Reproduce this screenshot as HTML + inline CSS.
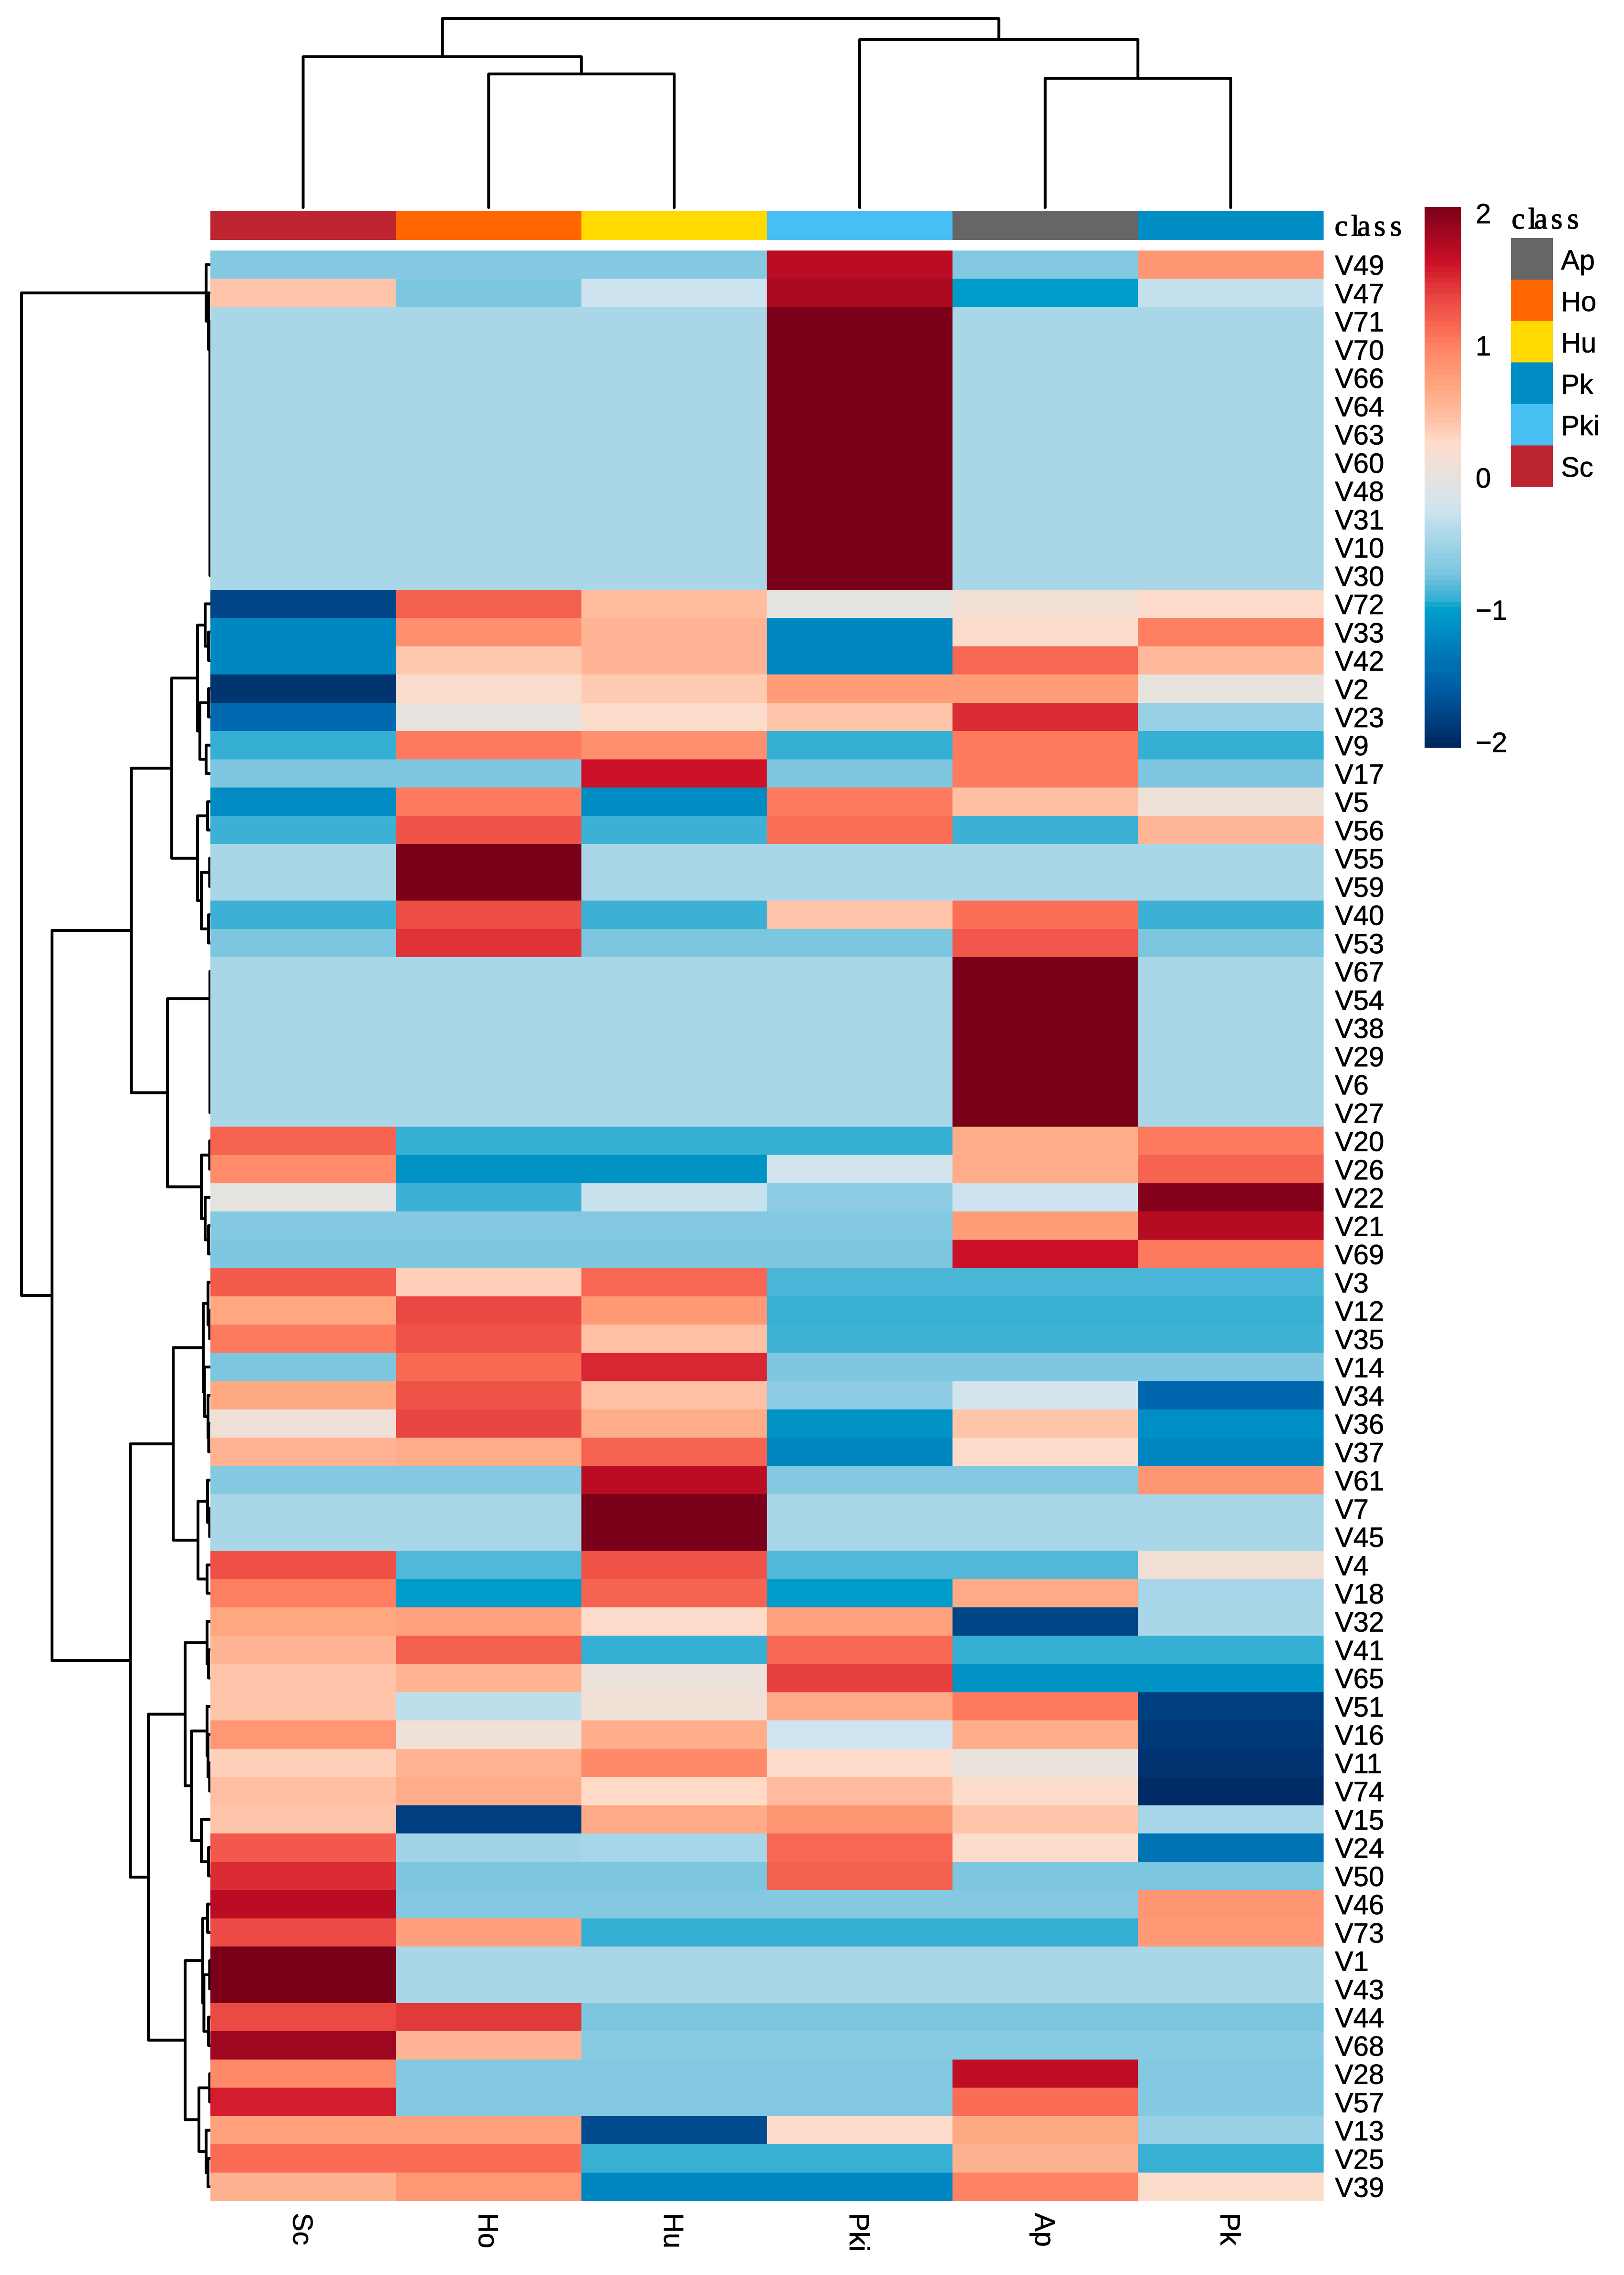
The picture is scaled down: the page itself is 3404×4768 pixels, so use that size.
<!DOCTYPE html>
<html lang="en">
<head>
<meta charset="utf-8">
<title>Clustered heatmap of variables by class</title>
<style>
  html, body { margin: 0; padding: 0; background: #ffffff; }
  body { width: 3404px; height: 4768px; overflow: hidden; }
  svg { display: block; }
  text { font-family: "Liberation Sans", sans-serif; font-size: 58px; fill: #000000; stroke: #000000; stroke-width: 0.8px; }
  .serif { font-family: "Liberation Serif", serif; font-size: 62px; stroke-width: 1.4px; }
</style>
</head>
<body>
<svg id="chart" xmlns="http://www.w3.org/2000/svg" width="3404" height="4768" viewBox="0 0 3404 4768">
  <rect x="0" y="0" width="3404" height="4768" fill="#ffffff"/>
  <g id="row-dendrogram" fill="none" stroke="#000000" stroke-width="6" stroke-linecap="round" stroke-linejoin="round"></g>
  <g id="col-dendrogram" fill="none" stroke="#000000" stroke-width="6" stroke-linecap="round" stroke-linejoin="round"></g>
  <g id="annotation-bar"></g>
  <g id="heatmap" shape-rendering="crispEdges"></g>
  <g id="row-labels"></g>
  <g id="col-labels"></g>
  <g id="colorbar" shape-rendering="crispEdges"></g>
  <g id="colorbar-ticks"></g>
  <g id="class-legend"></g>
  <text class="serif" x="2797.5 2832 2845 2880 2914" y="494">class</text>
  <text class="serif" x="3168.5 3203 3216 3251 3285" y="479">class</text>
</svg>
<script>
const colLabels = ['Sc', 'Ho', 'Hu', 'Pki', 'Ap', 'Pk'];
const rowLabels = ['V49','V47','V71','V70','V66','V64','V63','V60','V48','V31','V10','V30','V72','V33','V42','V2','V23','V9','V17','V5','V56','V55','V59','V40','V53','V67','V54','V38','V29','V6','V27','V20','V26','V22','V21','V69','V3','V12','V35','V14','V34','V36','V37','V61','V7','V45','V4','V18','V32','V41','V65','V51','V16','V11','V74','V15','V24','V50','V46','V73','V1','V43','V44','V68','V28','V57','V13','V25','V39'];
const heatValues = [
  [-0.67,-0.67,-0.67,1.72,-0.67,0.83],
  [0.43,-0.72,-0.25,1.8,-1.02,-0.3],
  [-0.45,-0.45,-0.45,2.05,-0.45,-0.45],
  [-0.45,-0.45,-0.45,2.05,-0.45,-0.45],
  [-0.45,-0.45,-0.45,2.05,-0.45,-0.45],
  [-0.45,-0.45,-0.45,2.05,-0.45,-0.45],
  [-0.45,-0.45,-0.45,2.05,-0.45,-0.45],
  [-0.45,-0.45,-0.45,2.05,-0.45,-0.45],
  [-0.45,-0.45,-0.45,2.05,-0.45,-0.45],
  [-0.45,-0.45,-0.45,2.05,-0.45,-0.45],
  [-0.45,-0.45,-0.45,2.05,-0.45,-0.45],
  [-0.45,-0.45,-0.45,2.05,-0.45,-0.45],
  [-1.78,1.2,0.48,0,0.12,0.25],
  [-1.2,0.88,0.55,-1.2,0.25,1.0],
  [-1.2,0.4,0.55,-1.2,1.15,0.52],
  [-1.92,0.22,0.38,0.77,0.77,0.02],
  [-1.48,0.02,0.24,0.42,1.5,-0.55],
  [-0.92,1.03,0.88,-0.92,1.03,-0.92],
  [-0.7,-0.7,1.63,-0.7,1.03,-0.7],
  [-1.17,1.03,-1.17,1.03,0.46,0.08],
  [-0.9,1.27,-0.9,1.1,-0.9,0.54],
  [-0.45,2.05,-0.45,-0.45,-0.45,-0.45],
  [-0.45,2.05,-0.45,-0.45,-0.45,-0.45],
  [-0.9,1.32,-0.9,0.43,1.1,-0.9],
  [-0.72,1.46,-0.72,-0.72,1.25,-0.72],
  [-0.45,-0.45,-0.45,-0.45,2.05,-0.45],
  [-0.45,-0.45,-0.45,-0.45,2.05,-0.45],
  [-0.45,-0.45,-0.45,-0.45,2.05,-0.45],
  [-0.45,-0.45,-0.45,-0.45,2.05,-0.45],
  [-0.45,-0.45,-0.45,-0.45,2.05,-0.45],
  [-0.45,-0.45,-0.45,-0.45,2.05,-0.45],
  [1.18,-0.92,-0.92,-0.92,0.63,1.03],
  [0.92,-1.12,-1.12,-0.2,0.63,1.17],
  [0,-0.9,-0.28,-0.62,-0.25,2.0],
  [-0.68,-0.68,-0.68,-0.68,0.77,1.75],
  [-0.7,-0.7,-0.7,-0.7,1.63,1.03],
  [1.22,0.35,1.15,-0.86,-0.86,-0.86],
  [0.68,1.35,0.8,-0.91,-0.91,-0.91],
  [1.03,1.28,0.45,-0.89,-0.89,-0.89],
  [-0.72,1.14,1.52,-0.7,-0.7,-0.7],
  [0.66,1.28,0.45,-0.62,-0.2,-1.5],
  [0.1,1.37,0.63,-1.12,0.42,-1.13],
  [0.57,0.63,1.17,-1.2,0.25,-1.2],
  [-0.67,-0.67,1.72,-0.67,-0.67,0.83],
  [-0.45,-0.45,2.05,-0.45,-0.45,-0.45],
  [-0.45,-0.45,2.05,-0.45,-0.45,-0.45],
  [1.3,-0.84,1.28,-0.84,-0.84,0.12],
  [1.0,-1.02,1.17,-1.02,0.65,-0.47],
  [0.68,0.73,0.25,0.73,-1.78,-0.45],
  [0.56,1.2,-0.92,1.15,-0.92,-0.92],
  [0.43,0.57,0.05,1.4,-1.12,-1.12],
  [0.42,-0.33,0.11,0.65,1.03,-1.83],
  [0.82,0.08,0.62,-0.24,0.62,-1.88],
  [0.34,0.57,0.93,0.25,0.04,-1.93],
  [0.46,0.63,0.28,0.49,0.24,-2.0],
  [0.42,-1.83,0.65,0.83,0.42,-0.46],
  [1.24,-0.5,-0.47,1.15,0.24,-1.38],
  [1.5,-0.72,-0.72,1.2,-0.72,-0.72],
  [1.72,-0.67,-0.67,-0.67,-0.67,0.83],
  [1.33,0.75,-0.92,-0.92,-0.92,0.8],
  [2.05,-0.45,-0.45,-0.45,-0.45,-0.45],
  [2.05,-0.45,-0.45,-0.45,-0.45,-0.45],
  [1.34,1.43,-0.72,-0.72,-0.72,-0.72],
  [1.87,0.55,-0.64,-0.64,-0.64,-0.64],
  [0.93,-0.68,-0.68,-0.68,1.7,-0.68],
  [1.57,-0.68,-0.68,-0.68,1.12,-0.68],
  [0.73,0.73,-1.73,0.24,0.66,-0.55],
  [1.12,1.12,-0.91,-0.91,0.58,-0.91],
  [0.58,0.82,-1.2,-1.2,0.98,0.24]
];
/* column merges: [node, left child, right child, merge height] */
const colMerges = [
  ['c1','Ho','Hu',70],
  ['c2','Sc','c1',79],
  ['c3','Ap','Pk',67.75],
  ['c4','Pki','c3',88],
  ['c5','c2','c4',99]
];
/* row merges: [node, left child, right child, merge height] */
const rowMerges = [
  ['a1','V10','V30',0.25],['a2','V31','a1',0.25],['a3','V48','a2',0.25],['a4','V60','a3',0.25],['a5','V63','a4',0.25],
  ['a6','V64','a5',0.25],['a7','V66','a6',0.25],['a8','V70','a7',0.25],['a9','V71','a8',0.25],
  ['a10','V47','a9',1],['a11','V49','a10',2.25],
  ['b1','V33','V42',1],['b2','V72','b1',2.75],['b3','V2','V23',1],['b4','V9','V17',2.25],['b5','b3','b4',5.5],['b6','b2','b5',6.75],
  ['b7','V5','V56',1.5],['b8','V55','V59',0.4],['b9','V40','V53',1],['b10','b8','b9',4.75],['b11','b7','b10',6.75],['b12','b6','b11',20.25],
  ['d1','V6','V27',0.25],['d2','V29','d1',0.25],['d3','V38','d2',0.25],['d4','V54','d3',0.25],['d5','V67','d4',0.25],
  ['d6','V20','V26',0.4],['d7','V21','V69',1],['d8','V22','d7',2.75],['d9','d6','d8',4.75],['d10','d5','d9',22.5],
  ['d11','b12','d10',41.4],
  ['e1','V12','V35',0.4],['e2','V3','e1',1.25],['e3','V36','V37',0.9],['e4','V34','e3',1.25],['e5','V14','e4',3.1],['e6','e2','e5',3.75],
  ['e7','V7','V45',0.4],['e8','V61','e7',1.5],['e9','V4','V18',1.75],['e10','e8','e9',6.5],['e11','e6','e10',19.5],
  ['f1','V41','V65',1],['f2','V32','f1',1.75],['f3','V11','V74',0.4],['f4','V16','f3',1.25],['f5','V51','f4',1.75],
  ['f6','V24','V50',1],['f7','V15','f6',4.75],['f8','f5','f7',9.9],['f9','f2','f8',13.25],
  ['g1','V46','V73',1.5],['g2','V1','V43',0.4],['g3','V44','V68',1],['g4','g2','g3',3.4],['g5','g1','g4',4],
  ['g6','V28','V57',0.4],['g7','V25','V39',1.25],['g8','V13','g7',2.25],['g9','g6','g8',6],['g10','g5','g9',13.25],
  ['g11','f9','g10',32.5],['g12','e11','g11',42],['g13','d11','g12',83],['root','a11','g13',99]
];
const colorbarTicks = [2, 1, 0, -1, -2];
const colorbarTickLabels = ['2', '1', '0', '\u22121', '\u22122'];
const legendClasses = ['Ap', 'Ho', 'Hu', 'Pk', 'Pki', 'Sc'];
const legendColors = ['#666666', '#FF6600', '#FFD900', '#008DC4', '#48BFF2', '#BD2530'];
const colClasses = ['Sc', 'Ho', 'Hu', 'Pki', 'Ap', 'Pk'];
const colorStops = [[-2.05,'#00255c'],[-1.56,'#0060a9'],[-1.27,'#007fbd'],[-0.97,'#00a2cc'],[-0.95,'#2aabd2'],[-0.72,'#7cc6e0'],[-0.45,'#a9d7e8'],[-0.24,'#cfe4ef'],[0,'#e5e3df'],[0.27,'#ffdbc9'],[0.48,'#ffbc9f'],[0.69,'#ffa680'],[0.93,'#ff8a6a'],[1.09,'#fc7158'],[1.38,'#e84340'],[1.63,'#cc1027'],[2.05,'#7a0019']];

const NS = 'http://www.w3.org/2000/svg';
const plot = { left: 441, right: 2774, top: 525, bottom: 4612.7 };
const cellW = (plot.right - plot.left) / colLabels.length;
const cellH = (plot.bottom - plot.top) / rowLabels.length;
function xCol(i) { return plot.left + i * cellW; }
function yRow(i) { return plot.top + i * cellH; }
function xRowHeight(h) { return plot.left - h * 396 / 99; }
function yColHeight(h) { return 435 - h * 396 / 99; }
function yBar(v) { return 1001 - 277 * v; }
function parseHex(c) { return [1, 3, 5].map(function (k) { return parseInt(c.substr(k, 2), 16); }); }
function colorAt(v) {
  if (v <= colorStops[0][0]) return colorStops[0][1];
  for (let i = 1; i < colorStops.length; i++) {
    if (v <= colorStops[i][0]) {
      const a = colorStops[i - 1], b = colorStops[i];
      const t = (v - a[0]) / (b[0] - a[0]);
      const ca = parseHex(a[1]), cb = parseHex(b[1]);
      return 'rgb(' + ca.map(function (c, k) { return Math.round(c + (cb[k] - c) * t); }).join(',') + ')';
    }
  }
  return colorStops[colorStops.length - 1][1];
}
function make(tag, attrs, parent, txt) {
  const el = document.createElementNS(NS, tag);
  for (const k in attrs) el.setAttribute(k, attrs[k]);
  if (txt !== undefined) el.textContent = txt;
  document.getElementById(parent).appendChild(el);
  return el;
}

/* row dendrogram */
const rowPos = {};
rowLabels.forEach(function (name, i) { rowPos[name] = { p: yRow(i + 0.5), h: 0 }; });
rowMerges.forEach(function (m) {
  const a = rowPos[m[1]], b = rowPos[m[2]];
  const x = xRowHeight(m[3]);
  rowPos[m[0]] = { p: (a.p + b.p) / 2, h: m[3] };
  const el = make('path', { d: 'M' + xRowHeight(a.h) + ' ' + a.p + 'H' + x + 'V' + b.p + 'H' + xRowHeight(b.h) }, 'row-dendrogram');
  
  
});

/* column dendrogram */
const colPos = {};
colLabels.forEach(function (name, i) { colPos[name] = { p: xCol(i + 0.5), h: 0 }; });
colMerges.forEach(function (m) {
  const a = colPos[m[1]], b = colPos[m[2]];
  const y = yColHeight(m[3]);
  colPos[m[0]] = { p: (a.p + b.p) / 2, h: m[3] };
  const el = make('path', { d: 'M' + a.p + ' ' + yColHeight(a.h) + 'V' + y + 'H' + b.p + 'V' + yColHeight(b.h) }, 'col-dendrogram');
  
  
});

/* annotation bar and column labels */
colClasses.forEach(function (cls, i) {
  const bar = make('rect', { x: xCol(i), y: 442, width: cellW + 0.5, height: 61, fill: legendColors[legendClasses.indexOf(cls)], 'shape-rendering': 'crispEdges' }, 'annotation-bar');
  
  
  const cx = xCol(i + 0.5) - 21;
  const lbl = make('text', { x: cx, y: 4638, transform: 'rotate(90 ' + cx + ' 4638)' }, 'col-labels', colLabels[i]);
  
  
});

/* heatmap cells and row labels */
heatValues.forEach(function (row, r) {
  row.forEach(function (v, c) {
    const cell = make('rect', { x: xCol(c), y: yRow(r), width: cellW + 0.5, height: cellH + 0.5, fill: colorAt(v) }, 'heatmap');
    
    
  });
  const lbl = make('text', { x: 2798, y: yRow(r + 0.5) + 21.5 }, 'row-labels', rowLabels[r]);
  
  
});

/* colorbar */
const barTop = 434, barBottom = 1567, barSteps = 100;
for (let i = 0; i < barSteps; i++) {
  const y0 = barTop + (barBottom - barTop) * i / barSteps;
  const y1 = barTop + (barBottom - barTop) * (i + 1) / barSteps;
  const seg = make('rect', { x: 2986, y: y0, width: 76, height: y1 - y0 + 0.5, fill: colorAt((1001 - (y0 + y1) / 2) / 277) }, 'colorbar');
  
  
}
colorbarTicks.forEach(function (v, i) {
  const t = make('text', { x: 3093, y: yBar(v) + 21 }, 'colorbar-ticks', colorbarTickLabels[i]);
  
  
});

/* class legend */
legendClasses.forEach(function (cls, i) {
  const sw = make('rect', { x: 3167, y: 499 + 86.9 * i, width: 88, height: 87.4, fill: legendColors[i], 'shape-rendering': 'crispEdges' }, 'class-legend');
  
  
  const t = make('text', { x: 3272, y: 565 + 86.8 * i }, 'class-legend', cls);
  
  
});
</script>
</body>
</html>
